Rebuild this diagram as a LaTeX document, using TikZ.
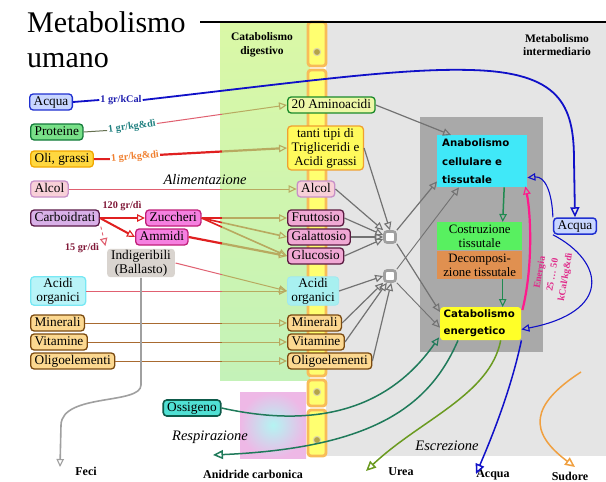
\documentclass[tikz,border=0pt]{standalone}
\usepackage{fontspec}
\setmainfont{Liberation Serif}
\newfontfamily\chunkyfont{DejaVu Sans}
\usetikzlibrary{arrows.meta,calc}

% palette
\definecolor{graybg}{HTML}{E5E5E5}
\definecolor{greenTop}{HTML}{DAF8A6}
\definecolor{greenBot}{HTML}{C4F2B8}
\definecolor{lungIn}{HTML}{B4F4F2}
\definecolor{lungOut}{HTML}{EEB8E6}
\definecolor{tubeF}{HTML}{FFFF70}
\definecolor{tubeD}{HTML}{F8BC58}
\definecolor{tubeDot}{HTML}{B4A448}
\definecolor{acqF}{HTML}{C8D6FF}
\definecolor{acqD}{HTML}{2030D0}
\definecolor{protF}{HTML}{78E088}
\definecolor{protD}{HTML}{137A3A}
\definecolor{oliF}{HTML}{FFD840}
\definecolor{oliD}{HTML}{F0A800}
\definecolor{alcF}{HTML}{F8D0D8}
\definecolor{alcD}{HTML}{C890C8}
\definecolor{carbF}{HTML}{D8B0E8}
\definecolor{carbD}{HTML}{5A1A48}
\definecolor{zucF}{HTML}{F580E0}
\definecolor{zucD}{HTML}{C0207A}
\definecolor{indigF}{HTML}{D9D4CF}
\definecolor{acidF}{HTML}{B8F4F8}
\definecolor{acidD}{HTML}{78E8F4}
\definecolor{minF}{HTML}{FCD890}
\definecolor{minD}{HTML}{7A4A10}
\definecolor{aminoF}{HTML}{EEF8A8}
\definecolor{aminoD}{HTML}{1A8A2A}
\definecolor{trigF}{HTML}{FFFA5C}
\definecolor{trigD}{HTML}{F0A030}
\definecolor{frutF}{HTML}{F0A8D4}
\definecolor{frutD}{HTML}{5A1A40}
\definecolor{acidMF}{HTML}{A8F0F0}
\definecolor{acidMD}{HTML}{A0E8F0}
\definecolor{boxgray}{HTML}{A9A9A9}
\definecolor{anabF}{HTML}{40E8F8}
\definecolor{costrF}{HTML}{58F060}
\definecolor{decompF}{HTML}{E09050}
\definecolor{catabF}{HTML}{FFFF28}
\definecolor{ossF}{HTML}{50E0D4}
\definecolor{ossD}{HTML}{0E5A4A}
\definecolor{blueL}{HTML}{1010C8}
\definecolor{blueT}{HTML}{2020B0}
\definecolor{tealT}{HTML}{208080}
\definecolor{orangeT}{HTML}{F08030}
\definecolor{maroonT}{HTML}{801838}
\definecolor{magL}{HTML}{FF1A8C}
\definecolor{magT}{HTML}{E02A8A}
\definecolor{redThin}{HTML}{E06070}
\definecolor{redThick}{HTML}{E02020}
\definecolor{brownL}{HTML}{A86A30}
\definecolor{tanL}{HTML}{B8AA60}
\definecolor{grayL}{HTML}{727272}
\definecolor{grayLight}{HTML}{A0A0A0}
\definecolor{greenA}{HTML}{208A50}
\definecolor{breathL}{HTML}{1F7A5A}
\definecolor{ureaL}{HTML}{6A9A20}
\definecolor{sweatL}{HTML}{F0A040}

\tikzset{
  box/.style={draw, rounded corners=3.5pt, line width=1.3pt, inner xsep=4pt,
    inner ysep=1.2pt, minimum height=16pt, font=\fontsize{13.3}{14}\selectfont},
  one/.style={text height=9.2pt, text depth=3pt},
  hdr/.style={font=\bfseries\fontsize{11.5}{13.5}\selectfont, align=center, inner sep=0pt},
  amt/.style={font=\bfseries\fontsize{10.2}{11}\selectfont, inner sep=1pt},
  handlbl/.style={font=\itshape\fontsize{14.5}{15}\selectfont, inner sep=0pt},
  outlbl/.style={font=\bfseries\fontsize{12}{13}\selectfont, inner sep=0pt},
  chunky/.style={font=\chunkyfont\bfseries\fontsize{10.2}{18.5}\selectfont},
  oa/.style={-{Triangle[open,length=8pt,width=7.5pt,line width=1.1pt]}},
  oab/.style={-{Triangle[open,length=10pt,width=9pt,line width=1.5pt]}},
  junc/.style={draw=grayLight, line width=2.6pt, fill=white, minimum size=11pt,
    rounded corners=2.5pt, inner sep=0pt},
  tubeseg/.style={fill=tubeF, draw=tubeD, line width=2.8pt, rounded corners=3pt},
  gl/.style={draw=grayL, line width=1.2pt, oa},
}

% lines running from the intake labels into the digestive tube
\newcommand\feedpaths{%
  \draw[feedA] (lblP.east) -- (amino.west);
  \draw[feedB] (lblO.east) -- (trig.west);
  \draw[feedA] (alcL.east) -- (alcM.west);
  \draw[feedZ] (zuc.east) -- (frut.west);
  \draw[feedZ] (zuc.east) -- (gal.west);
  \draw[feedZ] (zuc.east) -- (glu.west);
  \draw[feedB] (amm.east) -- (glu.west);
  \draw[feedA] (indig.east) -- (acidM.west);
  \draw[feedA] (acidL.east) -- (acidM.west);
  \draw[feedM] (minL.east) -- (minM.west);
  \draw[feedM] (vitL.east) -- (vitM.west);
  \draw[feedM] (oligoL.east) -- (oligoM.west);
}

\begin{document}
\begin{tikzpicture}[x=1pt,y=-1pt]
\useasboundingbox (0,0) rectangle (606,482);
\fill[white] (0,0) rectangle (606,482);

% background regions
\fill[graybg] (326,22) rectangle (606,456);
\shade[top color=greenTop, bottom color=greenBot] (220,22) rectangle (310,380);
\shade[inner color=lungIn, outer color=lungOut] (240,392) rectangle (306,458);

% digestive tube
\foreach \a/\b in {22/66,70/376,380/406,410/456}
  \draw[tubeseg] (308,\a) rectangle (326,\b);
\foreach \yy in {52,193,292,392,440}
  \filldraw[fill=tubeDot, draw=tubeDot!45!white, line width=1pt] (317,\yy) circle (3.6pt);

\draw[line width=1.6pt] (200,22) -- (606,22);

% titles
\node[anchor=north west, inner sep=0pt, align=left,
  font=\fontsize{30}{35}\selectfont] (title) at (27,11) {Metabolismo\\umano};
\node[hdr] (catdig) at (262,45) {Catabolismo\\digestivo};
\node[hdr] (metint) at (557,45) {Metabolismo\\intermediario};

% intake
\node[box,one,fill=acqF,draw=acqD,anchor=west] (acqL) at (29,102) {Acqua};
\node[box,one,fill=protF,draw=protD,anchor=west] (prot) at (30,132) {Proteine};
\node[box,one,fill=oliF,draw=oliD,anchor=west] (oli) at (30,159) {Oli, grassi};
\node[box,one,fill=alcF,draw=alcD,anchor=west] (alcL) at (30,189) {Alcol};
\node[box,one,fill=carbF,draw=carbD,anchor=west] (carb) at (30,218) {Carboidrati};
\node[box,one,fill=zucF,draw=zucD,anchor=west] (zuc) at (145,218) {Zuccheri};
\node[box,one,fill=zucF,draw=zucD,anchor=west] (amm) at (135,237) {Ammidi};
\node[box,fill=indigF,draw=none,align=center,minimum width=67pt] (indig) at (141,263) {Indigeribili\\(Ballasto)};
\node[box,fill=acidF,draw=acidD,align=center,anchor=west,minimum width=55pt] (acidL) at (30,291) {Acidi\\organici};
\node[box,one,fill=minF,draw=minD,anchor=west] (minL) at (30,323) {Minerali};
\node[box,one,fill=minF,draw=minD,anchor=west] (vitL) at (30,342) {Vitamine};
\node[box,one,fill=minF,draw=minD,anchor=west] (oligoL) at (30,361) {Oligoelementi};

% quantities
\node[amt,text=blueT] (kcal) at (121,100) {1 gr/kCal};
\node[amt,text=tealT,rotate=8] (lblP) at (132,127) {1 gr/kg\&dì};
\node[amt,text=orangeT,rotate=5] (lblO) at (135,157) {1 gr/kg\&dì};
\node[amt,text=maroonT] (q120) at (122,206) {120 gr/dì};
\node[amt,text=maroonT] (q15) at (82,248) {15 gr/dì};
\node[handlbl] (alim) at (205,180) {Alimentazione};

% digestion products
\node[box,one,fill=aminoF,draw=aminoD,anchor=west] (amino) at (287,105) {20 Aminoacidi};
\node[box,fill=trigF,draw=trigD,anchor=west,align=center,inner ysep=2pt,
  font=\fontsize{13}{14}\selectfont] (trig) at (287,148) {tanti tipi di\\Trigliceridi e\\Acidi grassi};
\node[box,one,fill=alcF,draw=alcD] (alcM) at (316,189) {Alcol};
\node[box,one,fill=frutF,draw=frutD,anchor=west] (frut) at (287,218) {Fruttosio};
\node[box,one,fill=frutF,draw=frutD,anchor=west] (gal) at (287,237) {Galattosio};
\node[box,one,fill=frutF,draw=frutD,anchor=west] (glu) at (287,256) {Glucosio};
\node[box,fill=acidMF,draw=acidMD,line width=0.8pt,align=center,anchor=west] (acidM) at (287,291) {Acidi\\organici};
\node[box,one,fill=minF,draw=minD,anchor=west] (minM) at (287,323) {Minerali};
\node[box,one,fill=minF,draw=minD,anchor=west] (vitM) at (287,342) {Vitamine};
\node[box,one,fill=minF,draw=minD,anchor=west] (oligoM) at (287,361) {Oligoelementi};

% junctions
\node[junc] (j1) at (390,237) {};
\node[junc] (j2) at (390,276) {};

% cellular metabolism block
\fill[boxgray] (420,117) rectangle (543,352);
\node[chunky,anchor=north west,fill=anabF,text width=80pt,inner xsep=5pt,inner ysep=3pt,
  minimum height=52pt,align=left] (anab) at (437,135) {Anabolismo\\cellulare e\\tissutale};
\node[anchor=north west,fill=costrF,minimum width=85pt,minimum height=28pt,inner sep=0pt,
  align=center,font=\fontsize{12.8}{14}\selectfont] (costr) at (437,222) {Costruzione\\tissutale};
\node[anchor=north west,fill=decompF,minimum width=85pt,minimum height=28pt,inner sep=0pt,
  align=center,font=\fontsize{12.8}{14}\selectfont] (decomp) at (437,251) {Decomposi-\\zione tissutale};
\node[chunky,anchor=north west,fill=catabF,rounded corners=3pt,minimum width=81pt,
  minimum height=33pt,text width=74pt,inner xsep=3.5pt,inner ysep=0pt,align=left,
  font=\chunkyfont\bfseries\fontsize{10.2}{17}\selectfont] (catab) at (440,307) {Catabolismo\\energetico};

\node[box,one,fill=acqF,draw=acqD,line width=1.5pt] (acqR) at (575,226) {Acqua};
\node[rotate=80,text=magT,align=center,inner sep=0pt,
  font=\bfseries\fontsize{9.5}{13}\selectfont] (energ) at (553,275) {Energia\\25 … 50\\kCal/kg\&dì};

% breathing and outputs
\node[box,one,fill=ossF,draw=ossD,line width=1.6pt] (oss) at (192,408) {Ossigeno};
\node[handlbl] (resp) at (210,437) {Respirazione};
\node[handlbl] (escr) at (447,446) {Escrezione};
\node[outlbl] (feci) at (86,471) {Feci};
\node[outlbl] (anid) at (253,474) {Anidride carbonica};
\node[outlbl] (urea) at (401,472) {Urea};
\node[outlbl] (acqB) at (493,475) {Acqua};
\node[outlbl] (sud) at (570,476) {Sudore};
\coordinate (feciA) at (60,467);
\coordinate (co2A) at (213,455);
\coordinate (ureaA) at (366,471);
\coordinate (acqA) at (476,474);
\coordinate (sudA) at (575,467);
\coordinate (sweat) at (581,372);

% water
\draw[blueL,line width=1.8pt] (acqL.east) -- (kcal.west);
\draw[blueL,line width=1.8pt,oab] (kcal.east) .. controls (300,82) and (400,68) .. (470,70)
  .. controls (560,72) and (574,105) .. (574,160) -- (acqR.north);
\draw[blueL,line width=1.1pt,oa] (acqR.north west) .. controls (552,192) and (545,176) .. (anab.-20);
\draw[blueL,line width=1.1pt,oa] (acqR.south west) .. controls (605,262) and (612,312) .. (catab.-8);
\draw[blueL,line width=1.5pt,oab] (catab.south east) .. controls (512,385) and (495,430) .. (acqA);

% intake arrows
\draw[redThick,line width=2pt,oa] (carb.east) -- (zuc.west);
\draw[redThick,line width=2pt,oa] (carb.east) -- (amm.west);
\draw[redThin,line width=0.9pt,dashed,oa] ($(carb.south east)+(1,0)$) -- ($(indig.north west)+(-1,-2)$);
\draw[protD!60!redThin,line width=1pt] (prot.east) -- (lblP.west);
\draw[redThick,line width=2pt] (oli.east) -- (lblO.west);

\begin{scope}
  \clip (0,0) rectangle (222,482);
  \tikzset{feedA/.style={draw=redThin,line width=1pt},
    feedB/.style={draw=redThick,line width=2.2pt},
    feedZ/.style={draw=redThick,line width=1.6pt},
    feedM/.style={draw=brownL,line width=1pt}}
  \feedpaths
\end{scope}
\begin{scope}
  \clip (222,0) rectangle (300,482);
  \tikzset{feedA/.style={draw=tanL,line width=1pt,oa},
    feedB/.style={draw=tanL,line width=2.2pt,oa},
    feedZ/.style={draw=tanL,line width=1.6pt,oa},
    feedM/.style={draw=tanL,line width=1pt,oa}}
  \feedpaths
\end{scope}

\draw[grayLight,line width=1.6pt,oa] (indig.south) -- (141,385) .. controls (141,405) and (62,393) .. (61,425) -- (feciA);

% towards the junctions
\draw[gl] (amino.east) -- ($(anab.north west)+(14,0)$);
\draw[gl] (trig.east) -- (j1.north);
\draw[gl] (alcM.east) -- (j1.north west);
\draw[gl] (frut.east) -- (j1.165);
\draw[gl] (gal.east) -- (j1.west);
\draw[gl] (glu.east) -- (j1.195);
\draw[gl] (acidM.east) -- (j2.west);
\draw[gl] (minM.east) -- (j2.south west);
\draw[gl] (vitM.east) -- (j2.-115);
\draw[gl] (oligoM.east) -- (j2.-80);
\draw[gl] (j1.north east) -- ($(anab.south west)+(0,-6)$);
\draw[gl] (j1.south east) -- ($(catab.north west)+(0,5)$);
\draw[gl,line width=0.9pt] (j2.north east) -- ($(anab.south west)+(22,0)$);
\draw[gl,line width=0.9pt] (j2.south east) -- ($(catab.west)+(0,4)$);

% inside the cell
\draw[greenA,line width=1.5pt,oa] ($(anab.south)+(22,0)$) -- ($(costr.north)+(23,0)$);
\draw[greenA,line width=1.5pt,oa] ($(decomp.south)+(23,0)$) -- ($(catab.north)+(22,0)$);
\draw[magL,line width=2.2pt,oa] ($(catab.north east)+(1,3)$) .. controls (533,268) and (531,215) .. ($(anab.south east)+(-2,-1)$);

% breathing and excretion
\draw[breathL,line width=1.5pt,oa] (oss.east) .. controls (330,432) and (395,400) .. ($(catab.south west)+(-1,-3)$);
\draw[breathL,line width=1.5pt,oab] ($(catab.south west)+(18,0)$) .. controls (430,405) and (375,448) .. (co2A);
\draw[ureaL,line width=1.5pt,oab] ($(catab.south)+(20,0)$) .. controls (490,395) and (420,420) .. (ureaA);
\draw[sweatL,line width=1.5pt,oab] (sweat) .. controls (530,405) and (528,432) .. (sudA);
\end{tikzpicture}
\end{document}
